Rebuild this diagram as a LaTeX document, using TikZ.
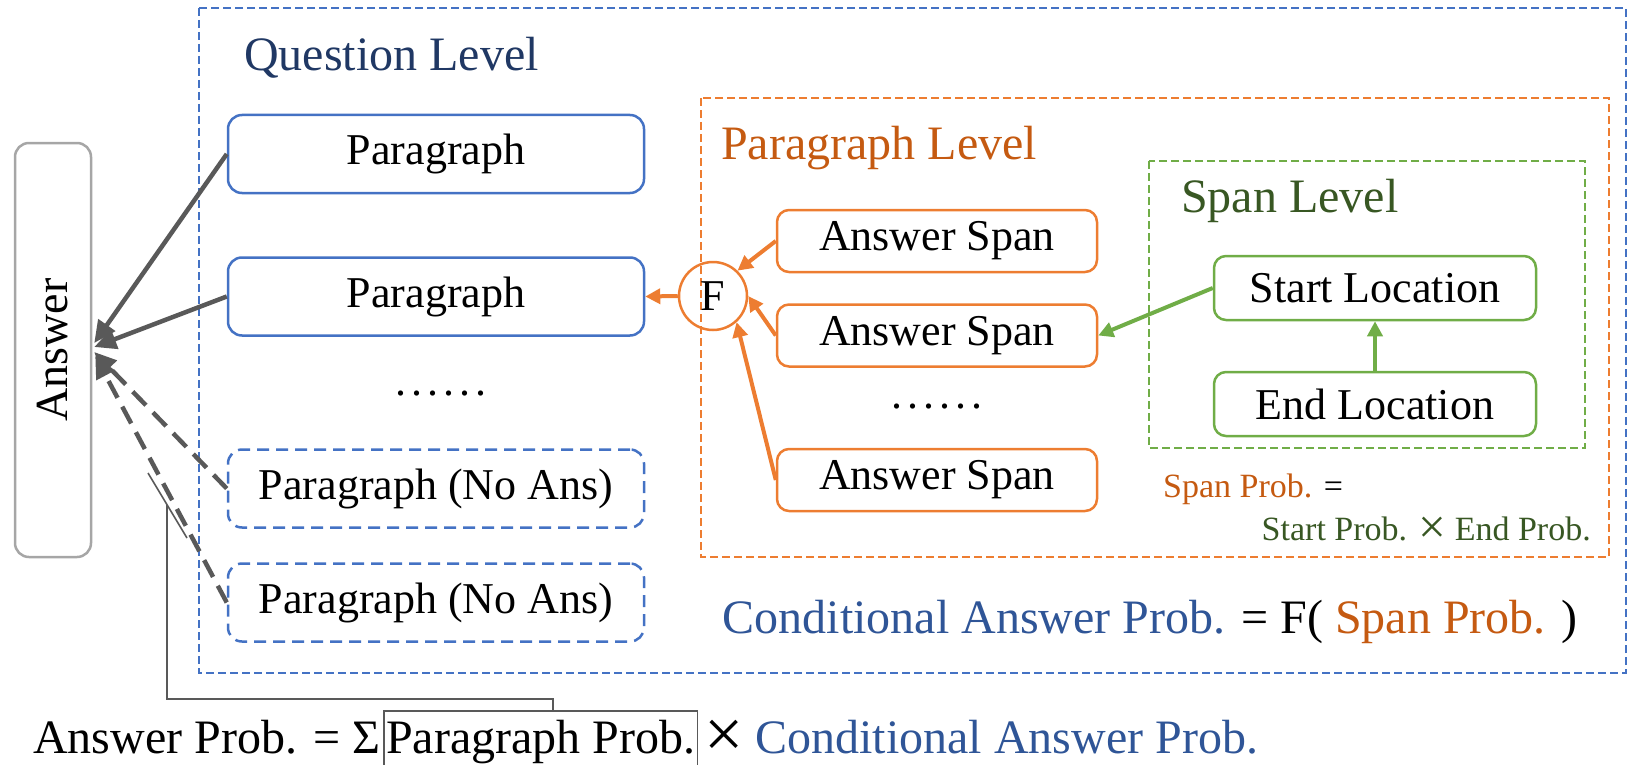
\documentclass[tikz,border=0pt]{standalone}
\usepackage{fontspec}
\setmainfont{Liberation Serif}
\usetikzlibrary{arrows.meta,calc}

\definecolor{qblue}{HTML}{4472C4}
\definecolor{qtitle}{HTML}{203864}
\definecolor{qtext}{HTML}{2F5597}
\definecolor{porange}{HTML}{ED7D31}
\definecolor{ptitle}{HTML}{C55A11}
\definecolor{sgreen}{HTML}{70AD47}
\definecolor{stitle}{HTML}{385723}
\definecolor{arrowgray}{HTML}{595959}
\definecolor{boxgray}{HTML}{A6A6A6}

\newcommand\ttlfont{\fontsize{48}{56}\selectfont}
\newcommand\bxfont{\fontsize{44}{52}\selectfont}
\newcommand\smfont{\fontsize{34}{40}\selectfont}
\newcommand\sixdots{.\hspace{5pt}.\hspace{5pt}.\hspace{5pt}.\hspace{5pt}.\hspace{5pt}.}
\newcommand\bigx{\raisebox{-0.09em}{\scalebox{1.45}{×}}}

\begin{document}
\begin{tikzpicture}[x=1pt,y=-1pt,
  every node/.style={inner sep=0pt},
  parbox/.style={draw=qblue, line width=2.5pt, rounded corners=14pt,
    minimum width=416pt, minimum height=78pt, font=\bxfont},
  noans/.style={parbox, dash pattern=on 12pt off 7pt},
  spanbox/.style={draw=porange, line width=2.5pt, rounded corners=12pt,
    minimum width=320pt, minimum height=62pt, font=\bxfont},
  locbox/.style={draw=sgreen, line width=2.5pt, rounded corners=12pt,
    minimum width=322pt, minimum height=64pt, font=\bxfont},
  ansbox/.style={draw=boxgray, line width=2.5pt, rounded corners=14pt,
    minimum width=76pt, minimum height=414pt},
  fnode/.style={circle, draw=porange, line width=2.5pt, minimum size=68pt, font=\bxfont},
  garrow/.style={draw=arrowgray, line width=4.5pt, -{Triangle[length=22pt,width=20pt]}},
  gdash/.style={garrow, dash pattern=on 19pt off 10pt},
  oarrow/.style={draw=porange, line width=4pt, -{Triangle[length=15pt,width=15pt]}},
  sarrow/.style={draw=sgreen, line width=4pt, -{Triangle[length=15pt,width=15pt]}},
  qframe/.style={draw=qblue, line width=2pt, dash pattern=on 8pt off 4pt},
  pframe/.style={draw=porange, line width=2pt, dash pattern=on 8pt off 4pt},
  sframe/.style={draw=sgreen, line width=2pt, dash pattern=on 8pt off 4pt},
  thin gray/.style={draw=arrowgray, line width=1.6pt},
]
\useasboundingbox (0,0) rectangle (1629,765);

% level frames
\draw[qframe] (199,8) rectangle (1626,673);
\draw[pframe] (701,98) rectangle (1609,557);
\draw[sframe] (1149,161) rectangle (1585,448);

% level titles
\node[anchor=base west, font=\ttlfont, text=qtitle] (qlvl) at (244,71) {Question Level};
\node[anchor=base west, font=\ttlfont, text=ptitle] (plvl) at (721,159) {Paragraph Level};
\node[anchor=base west, font=\ttlfont, text=stitle] (slvl) at (1181,212) {Span Level};

% answer
\node[ansbox] (ans) at (53,350) {};
\node[rotate=90, font=\fontsize{46}{54}\selectfont] (anstxt) at (ans.center) {Answer};

% question level: paragraphs
\node[parbox] (p1) at (436,154) {Paragraph};
\node[parbox] (p2) at (436,296.5) {Paragraph};
\node[anchor=base, font=\bxfont] (pdots) at (441,395) {\sixdots};
\node[noans] (na1) at (436,488.5) {Paragraph (No Ans)};
\node[noans] (na2) at (436,602.5) {Paragraph (No Ans)};

% paragraph level: spans and combination
\node[fnode] (f) at (713,296) {F};
\node[spanbox] (s1) at (937,241) {Answer Span};
\node[spanbox] (s2) at (937,335.5) {Answer Span};
\node[anchor=base, font=\bxfont] (sdots) at (937,408) {\sixdots};
\node[spanbox] (s3) at (937,480) {Answer Span};

% span level
\node[locbox] (start) at (1375,288) {Start Location};
\node[locbox] (end) at (1375,404) {End Location};

% formulas
\node[anchor=base west, font=\smfont, text=ptitle] (spf) at (1163,497) {Span Prob. \textcolor{black}{=}};
\node[anchor=base east, font=\smfont, text=stitle] (sef) at (1591,540) {Start Prob. \bigx{} End Prob.};
\node[anchor=base east, font=\ttlfont, text=qtext] (caf) at (1578,633)
  {Conditional Answer Prob. \textcolor{black}{= F(} \textcolor{ptitle}{Span Prob.} \textcolor{black}{)}};

\node[anchor=base west, font=\ttlfont] (apl) at (33,753) {Answer Prob. = Σ};
\node[anchor=base west, font=\ttlfont, inner xsep=2pt] (pbox) at (384,753) {Paragraph Prob.};
\node[anchor=base west, font=\ttlfont] (apr) at (704,753)
  {\bigx{} \textcolor{qtext}{Conditional Answer Prob.}};
% frame around the paragraph probability, running off the lower edge
\coordinate (ptop) at (0,711);
\draw[thin gray] (pbox.west |- 0,790) -- (pbox.west |- ptop)
  -- (pbox.east |- ptop) -- (pbox.east |- 0,790);

% connectors into the answer
\draw[garrow] (p1.west) -- ($(ans.east)+(2,-7)$);
\draw[garrow] (p2.west) -- ($(ans.east)+(2,-3)$);
\draw[gdash] (na1.west) -- ($(ans.east)+(2,2)$);
\draw[gdash] (na2.west) -- ($(ans.east)+(3,6)$);

% span scores combined by F
\draw[oarrow] (f.west) -- (p2.east);
\draw[oarrow] (s1.west) -- (f.46);
\draw[oarrow] (s2.west) -- (f.east);
\draw[oarrow] (s3.west) -- (f.-48);

% start/end locations
\draw[sarrow] (end.north) -- (start.south);
\draw[sarrow] (start.west) -- (s2.east);

% bracket on the no-answer paths linked to the paragraph probability
\coordinate (bk1) at (148,473);
\coordinate (bk2) at (187,538);
\coordinate (bkm) at (167,505);
\coordinate (turn) at (553,699);
\draw[thin gray] (bk1) -- (bk2);
\draw[thin gray] (bkm) |- (turn) -- (turn |- ptop);
\end{tikzpicture}
\end{document}
